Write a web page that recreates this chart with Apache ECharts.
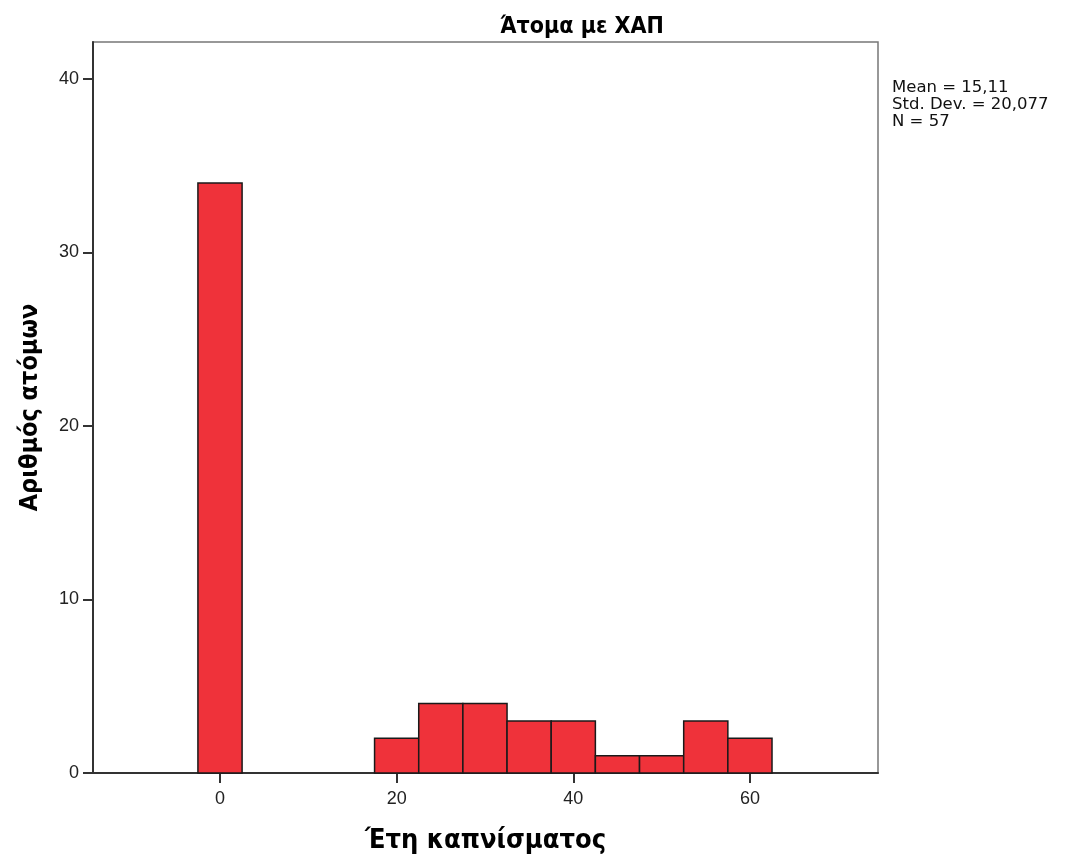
<!DOCTYPE html>
<html>
<head>
<meta charset="utf-8">
<script src="https://cdn.jsdelivr.net/npm/echarts@6/dist/echarts.min.js"></script>
<style>
html,body{margin:0;padding:0;background:#fff;}
#c{width:1070px;height:859px;}
</style>
</head>
<body>
<div id="c"></div>
<script>
const binStart = [-2.5, 17.5, 22.5, 27.5, 32.5, 37.5, 42.5, 47.5, 52.5, 57.5];
const binEnd   = [2.5, 22.5, 27.5, 32.5, 37.5, 42.5, 47.5, 52.5, 57.5, 62.5];
const counts   = [34, 2, 4, 4, 3, 3, 1, 1, 3, 2];
const xTicks = [0, 20, 40, 60];
const yTicks = [0, 10, 20, 30, 40];
const titleText = 'Άτομα με ΧΑΠ';
const xName = 'Έτη καπνίσματος';
const yName = 'Αριθμός ατόμων';
const statsLines = ['Mean = 15,11', 'Std. Dev. = 20,077', 'N = 57'];

const data = binStart.map((s, i) => [s, binEnd[i], counts[i]]);
const chart = echarts.init(document.getElementById('c'), null, {renderer: 'canvas'});
const font = '"Liberation Sans", Arial, sans-serif';
const condBold = '"DejaVu Sans Condensed", "DejaVu Sans", sans-serif';
chart.setOption({
  animation: false,
  backgroundColor: '#fff',
  title: {
    text: titleText, left: 577, top: 11, textAlign: 'center',
    textStyle: {fontFamily: condBold, fontWeight: 'bold', fontSize: 23, color: '#000'}
  },
  grid: {left: 93, right: 192, top: 42, bottom: 83, show: true, borderColor: '#777', borderWidth: 1.5, containLabel: false},
  xAxis: {
    type: 'value', min: -14.38, max: 74.5,
    axisLine: {show: true, onZero: false, lineStyle: {color: '#333', width: 2}},
    axisTick: {show: true, length: 10, lineStyle: {color: '#333', width: 2},
      customValues: xTicks},
    axisLabel: {customValues: xTicks, fontFamily: font, fontSize: 18, color: '#222', margin: 17},
    splitLine: {show: false},
    name: xName, nameLocation: 'middle', nameGap: 54,
    nameTextStyle: {fontFamily: condBold, fontWeight: 'bold', fontSize: 27, color: '#000'}
  },
  yAxis: {
    type: 'value', min: 0, max: 42.12,
    axisLine: {show: true, onZero: false, lineStyle: {color: '#333', width: 2}},
    axisTick: {show: true, length: 10, lineStyle: {color: '#333', width: 2}, customValues: yTicks},
    axisLabel: {customValues: yTicks, fontFamily: font, fontSize: 18, color: '#222', margin: 14},
    splitLine: {show: false},
    name: yName, nameLocation: 'middle', nameGap: 50,
    nameTextStyle: {fontFamily: condBold, fontWeight: 'bold', fontSize: 25, color: '#000'}
  },
  graphic: statsLines.map((t, i) => ({
    type: 'text', left: 892, top: 79 + i * 17,
    style: {text: t, font: '16.5px "DejaVu Sans", sans-serif', fill: '#111'}
  })),
  series: [{
    type: 'custom',
    data: data,
    encode: {x: [0, 1], y: 2},
    renderItem: function (params, api) {
      const p0 = api.coord([api.value(0), api.value(2)]);
      const p1 = api.coord([api.value(1), 0]);
      return {
        type: 'rect',
        shape: {x: p0[0], y: p0[1], width: p1[0] - p0[0], height: p1[1] - p0[1]},
        style: {fill: '#EF323A', stroke: '#1a1a1a', lineWidth: 1.5}
      };
    }
  }]
});
</script>
</body>
</html>
